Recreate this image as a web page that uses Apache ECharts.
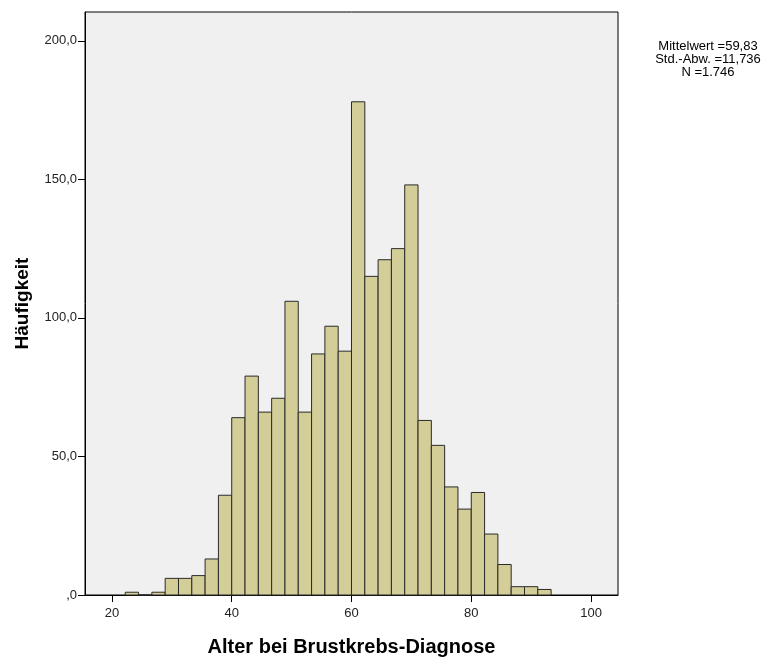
<!DOCTYPE html>
<html>
<head>
<meta charset="utf-8">
<script src="https://cdn.jsdelivr.net/npm/echarts@6/dist/echarts.min.js"></script>
<style>
  html, body { margin: 0; padding: 0; background: #fff; }
  #chart { width: 781px; height: 657px; }
</style>
</head>
<body>
<div id="chart"></div>
<script>
// Histogram bins: lower edge of first bin and bin width (years)
const binStart = 22.222;
const binWidth = 2.2222;
const counts = [1, 0, 1, 6, 6, 7, 13, 36, 64, 79, 66, 71, 106, 66, 87, 97,
  88, 178, 115, 121, 125, 148, 63, 54, 39, 31, 37, 22, 11, 3, 3, 2];
const xTicks = [20, 40, 60, 80, 100];
const statsLines = ['Mittelwert =59,83', 'Std.-Abw. =11,736', 'N =1.746'];

const binData = counts.map(function (c, i) {
  const lo = binStart + i * binWidth;
  return [lo, lo + binWidth, c];
});

const chart = echarts.init(document.getElementById('chart'), null, { renderer: 'canvas' });

const font = '"Liberation Sans", Arial, sans-serif';

chart.setOption({
  animation: false,
  backgroundColor: '#ffffff',
  grid: {
    left: 85, top: 12, width: 533, height: 583,
    outerBoundsMode: 'none',
    containLabel: false,
    show: true, backgroundColor: '#f0f0f0', borderColor: '#000', borderWidth: 1
  },
  xAxis: {
    type: 'value',
    min: 15.5, max: 104.5,
    name: 'Alter bei Brustkrebs-Diagnose',
    nameLocation: 'middle',
    nameGap: 42,
    nameTextStyle: { fontFamily: font, fontSize: 20, fontWeight: 'bold', color: '#000' },
    axisLine: { show: true, lineStyle: { color: '#000', width: 1 } },
    axisTick: { show: true, length: 7, customValues: xTicks, lineStyle: { color: '#000' } },
    axisLabel: { customValues: xTicks, margin: 12, fontFamily: font, fontSize: 13, color: '#222' },
    splitLine: { show: false }
  },
  yAxis: {
    type: 'value',
    min: 0, max: 210.4,
    interval: 50,
    name: 'Häufigkeit',
    nameLocation: 'middle',
    nameGap: 53,
    nameTextStyle: { fontFamily: font, fontSize: 19, fontWeight: 'bold', color: '#000' },
    axisLine: { show: true, lineStyle: { color: '#000', width: 1 } },
    axisTick: { show: true, length: 7, lineStyle: { color: '#000' } },
    axisLabel: {
      margin: 8, fontFamily: font, fontSize: 13, color: '#222',
      showMaxLabel: false,
      formatter: function (v) { return v === 0 ? ',0' : v.toFixed(1).replace('.', ','); }
    },
    splitLine: { show: false }
  },
  series: [{
    type: 'custom',
    data: binData,
    encode: { x: [0, 1], y: 2 },
    renderItem: function (params, api) {
      const p0 = api.coord([api.value(0), 0]);
      const p1 = api.coord([api.value(1), api.value(2)]);
      return {
        type: 'rect',
        shape: { x: p0[0], y: p1[1], width: p1[0] - p0[0], height: p0[1] - p1[1] },
        style: { fill: '#d3ce98', stroke: '#2a2a2a', lineWidth: 1 }
      };
    }
  }],
  graphic: [{
    type: 'text',
    x: 708, y: 40,
    style: {
      text: statsLines.join('\n'),
      font: '13px ' + font,
      fill: '#000',
      textAlign: 'center',
      lineHeight: 13
    }
  }]
});
</script>
</body>
</html>
